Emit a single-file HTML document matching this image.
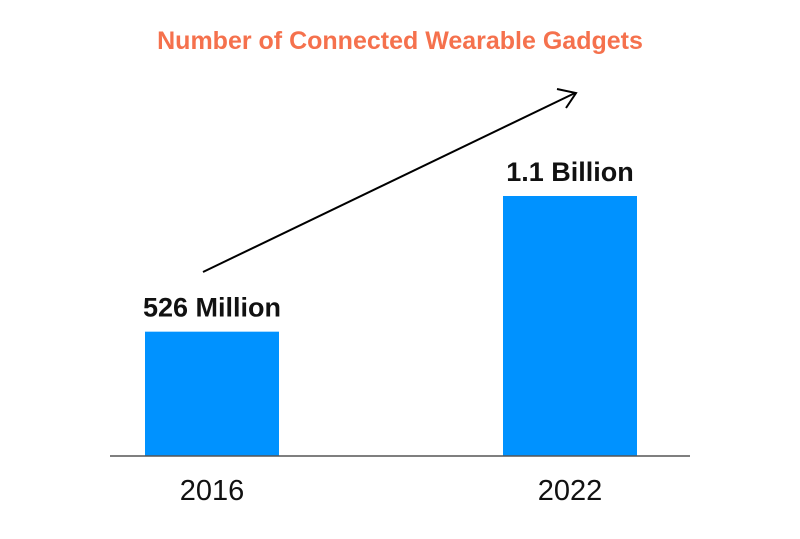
<!DOCTYPE html>
<html><head><meta charset="utf-8"><style>
html,body{margin:0;padding:0;background:#fff;}
svg{display:block;font-family:"Liberation Sans",sans-serif;}
</style></head><body>
<svg id="chart" width="800" height="539" viewBox="0 0 800 539">
<text x="400" y="49" text-anchor="middle" font-size="25" font-weight="bold" fill="#F5714D">Number of Connected Wearable Gadgets</text>
<g id="bars"></g>
<line x1="110" y1="456" x2="690" y2="456" stroke="#555" stroke-width="1.5"/>
<g>
<line x1="203" y1="272" x2="575" y2="93" stroke="#000" stroke-width="2"/>
<polyline points="557,89 576,93 566,108" fill="none" stroke="#000" stroke-width="2"/>
</g>
</svg>
<script>
const categories = ["2016","2022"];
const values = [526, 1100];
const valueLabels = ["526 Million","1.1 Billion"];
const ns="http://www.w3.org/2000/svg";
const baseY=456, pxPerUnit=260/1100;
const y=v=>baseY-v*pxPerUnit;
const centers=[212,570], bw=134;
const x=i=>centers[i];
const g=document.getElementById('bars');
categories.forEach((c,i)=>{
  const r=document.createElementNS(ns,'rect');
  
  
  r.setAttribute('x',x(i)-bw/2);r.setAttribute('y',y(values[i]));
  r.setAttribute('width',bw);r.setAttribute('height',baseY-y(values[i]));
  r.setAttribute('fill','#0092FF');g.appendChild(r);
  const t=document.createElementNS(ns,'text');
  
  
  t.setAttribute('x',x(i));t.setAttribute('y',y(values[i])-15);
  t.setAttribute('text-anchor','middle');t.setAttribute('font-size','27');
  t.setAttribute('font-weight','bold');t.setAttribute('fill','#111');
  t.textContent=valueLabels[i];g.appendChild(t);
  const l=document.createElementNS(ns,'text');
  
  
  l.setAttribute('x',x(i));l.setAttribute('y',500);
  l.setAttribute('text-anchor','middle');l.setAttribute('font-size','29');
  l.setAttribute('fill','#111');
  l.textContent=c;g.appendChild(l);
});
</script>
</body></html>
